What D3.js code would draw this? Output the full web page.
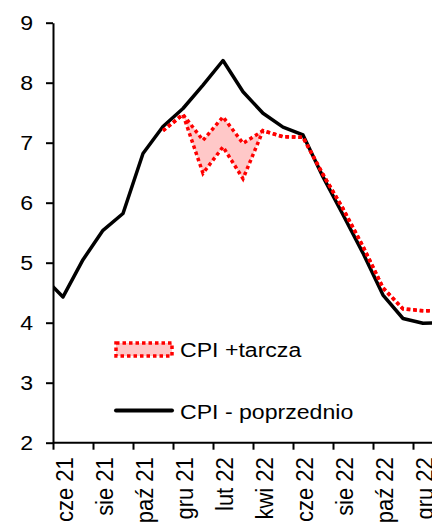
<!DOCTYPE html>
<html>
<head>
<meta charset="utf-8">
<script src="https://cdn.jsdelivr.net/npm/d3@7/dist/d3.min.js"></script>
<style>
  body { margin: 0; background: #fff; }
  svg { display: block; font-family: "Liberation Sans", Arial, sans-serif; }
  .axis path, .axis line { stroke: #000; stroke-width: 2px; }
</style>
</head>
<body>
<div id="chart"></div>
<script>
// months on the category axis (first one sits left of the y axis and is clipped)
var months = ["maj 21", "cze 21", "lip 21", "sie 21", "wrz 21", "paź 21", "lis 21", "gru 21",
  "sty 22", "lut 22", "mar 22", "kwi 22", "maj 22", "cze 22", "lip 22", "sie 22",
  "wrz 22", "paź 22", "lis 22", "gru 22", "sty 23"];

// CPI - poprzednio
var cpiPrev = [4.77, 4.43, 5.05, 5.54, 5.82, 6.82, 7.27, 7.57, 7.96, 8.37, 7.85, 7.49,
  7.26, 7.13, 6.43, 5.80, 5.16, 4.46, 4.07, 3.99, 4.00];

// CPI +tarcza, two bounds of the band
var tarczaUpper = [null, null, null, null, null, null, 7.20, 7.47, 7.04, 7.43, 6.99, 7.20,
  7.10, 7.09, 6.47, 5.90, 5.27, 4.58, 4.23, 4.20, 4.20];
var tarczaLower = [null, null, null, null, null, null, 7.20, 7.47, 6.49, 6.93, 6.40, 7.20,
  7.10, 7.09, 6.47, 5.90, 5.27, 4.58, 4.23, 4.20, 4.20];

var yTicks = [2, 3, 4, 5, 6, 7, 8, 9];

var W = 432, H = 522;
var FS = 21;      // font size
var SX = 1.1;     // the original text is a bit wide

var svg = d3.select("#chart").append("svg")
  .attr("width", W)
  .attr("height", H);

var x = d3.scaleLinear().domain([0, months.length - 1]).range([43, 443]);
var y = d3.scaleLinear().domain([2, 9]).range([442.7, 22.7]);

// clip the plot at the y axis
svg.append("clipPath").attr("id", "plot")
  .append("rect")
  .attr("x", x(0.5)).attr("y", 0)
  .attr("width", W).attr("height", H);

// y axis
var yAxis = svg.append("g")
  .attr("class", "axis")
  .attr("transform", "translate(" + x(0.5) + ",0)")
  .call(d3.axisLeft(y).tickValues(yTicks).tickSize(7).tickSizeOuter(0).tickFormat(d3.format("d")));
yAxis.selectAll("text").remove();

svg.append("g").selectAll("text")
  .data(yTicks)
  .enter()
  .append("text")
  .attr("transform", function(d) { return "translate(33," + y(d) + ") scale(" + SX + ",1)"; })
  .attr("text-anchor", "end")
  .attr("dy", "0.36em")
  .style("font-size", FS + "px")
  .text(function(d) { return d; });

// x axis: ticks between categories, labels on every second month
var tickPos = [];
for (var i = 1; i < months.length; i += 2) tickPos.push(i - 0.5);

var xAxis = svg.append("g")
  .attr("class", "axis")
  .attr("transform", "translate(0," + y(2) + ")")
  .call(d3.axisBottom(x).tickValues(tickPos).tickSize(7).tickSizeOuter(0).tickFormat(""));
xAxis.select(".domain").attr("d", "M" + x(0.5) + ",0H" + W);

var labelIdx = [];
for (var i = 1; i < months.length; i += 2) labelIdx.push(i);

svg.append("g").selectAll("text")
  .data(labelIdx)
  .enter()
  .append("text")
  .attr("transform", function(d) { return "translate(" + (x(d) + 1.5) + "," + (y(2) + 14.5) + ") rotate(-90) scale(1," + SX + ")"; })
  .attr("text-anchor", "end")
  .attr("dy", "0.36em")
  .style("font-size", "22px")
  .text(function(d) { return months[d]; });

var plot = svg.append("g").attr("clip-path", "url(#plot)");

// pink band between the tarcza bounds
var band = d3.area()
  .defined(function(d, i) { return tarczaUpper[i] != null; })
  .x(function(d, i) { return x(i); })
  .y0(function(d, i) { return y(tarczaLower[i]); })
  .y1(function(d, i) { return y(tarczaUpper[i]); });

plot.append("path")
  .datum(months)
  .attr("d", band)
  .style("fill", "#ffc8c8")
  .style("stroke", "none");

var line = d3.line()
  .defined(function(d) { return d != null; })
  .x(function(d, i) { return x(i); })
  .y(function(d) { return y(d); });

plot.append("path")
  .datum(cpiPrev)
  .attr("d", line)
  .style("fill", "none")
  .style("stroke", "#000")
  .style("stroke-width", 3.5)
  .style("stroke-linejoin", "round");

[tarczaUpper, tarczaLower].forEach(function(s) {
  plot.append("path")
    .datum(s)
    .attr("d", line)
    .style("fill", "none")
    .style("stroke", "#ff0000")
    .style("stroke-width", 3.5)
    .style("stroke-dasharray", "3.5,3");
});

// legend
var lg = svg.append("g");
lg.append("rect")
  .attr("x", 116).attr("y", 343)
  .attr("width", 56).attr("height", 13)
  .style("fill", "#ffc8c8")
  .style("stroke", "#ff0000")
  .style("stroke-width", 3.5)
  .style("stroke-dasharray", "3.5,3");
lg.append("text")
  .attr("transform", "translate(180,349) scale(" + SX + ",1)")
  .attr("dy", "0.36em")
  .style("font-size", FS + "px")
  .text("CPI +tarcza");

lg.append("line")
  .attr("x1", 116).attr("x2", 172)
  .attr("y1", 410.5).attr("y2", 410.5)
  .style("stroke", "#000")
  .style("stroke-width", 4)
  .style("stroke-linecap", "round");
lg.append("text")
  .attr("transform", "translate(180,411) scale(" + SX + ",1)")
  .attr("dy", "0.36em")
  .style("font-size", FS + "px")
  .text("CPI - poprzednio");
</script>
</body>
</html>
